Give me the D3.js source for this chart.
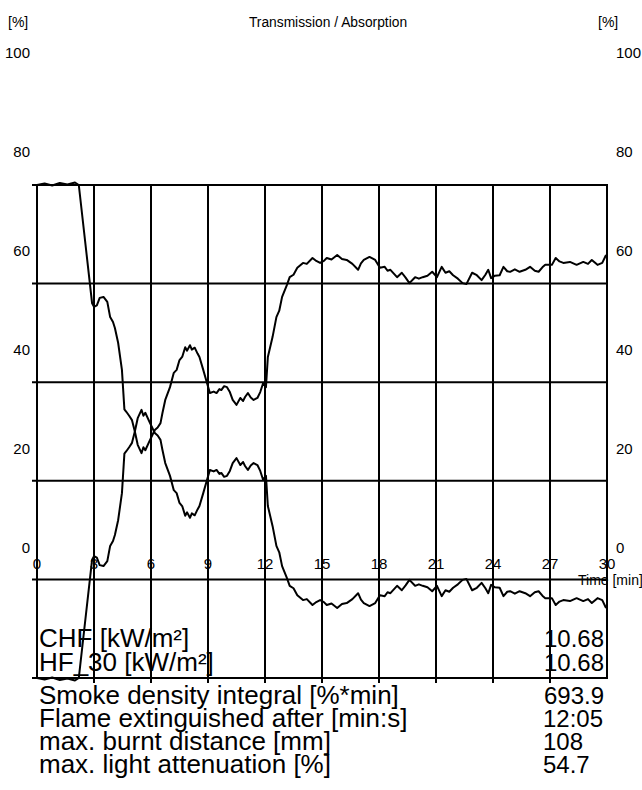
<!DOCTYPE html>
<html>
<head>
<meta charset="utf-8">
<script src="https://cdn.jsdelivr.net/npm/d3@7"></script>
<style>
  body { margin: 0; background: #fff; }
  svg { display: block; }
  text { font-family: "Liberation Sans", Arial, sans-serif; fill: #000; }
</style>
</head>
<body>
<svg id="chart"></svg>
<script>
'use strict'

// time axis [min]
const times = [0, 0.4, 0.8, 1.2, 1.6, 2.0, 2.2, 2.9, 3.0, 3.15, 3.3, 3.5, 3.7, 3.85, 4.0, 4.1, 4.27, 4.47, 4.6, 4.7,
  4.85, 5.0, 5.15, 5.3, 5.5, 5.6, 5.7, 5.95, 6.2, 6.35, 6.5, 6.6, 6.75, 7.0, 7.2, 7.35, 7.5, 7.65, 7.8, 7.9,
  8.05, 8.15, 8.3, 8.45, 8.55, 8.75, 8.95, 9.1, 9.3, 9.45, 9.6, 9.7, 9.85, 10.0, 10.15, 10.3, 10.5, 10.7, 10.85, 10.95,
  11.1, 11.25, 11.4, 11.6, 11.75, 11.9, 12.05, 12.15, 12.4, 12.6, 12.75, 12.9, 13.15, 13.3, 13.5, 13.7, 14.0, 14.2, 14.5, 14.7,
  14.9, 15.1, 15.25, 15.5, 15.8, 16.05, 16.3, 16.6, 16.9, 17.05, 17.2, 17.5, 17.8, 18.05, 18.3, 18.45, 18.6, 18.95, 19.2, 19.4,
  19.6, 19.9, 20.1, 20.3, 20.55, 20.8, 21.05, 21.3, 21.5, 21.7, 21.9, 22.15, 22.4, 22.6, 22.9, 23.15, 23.4, 23.6, 23.75, 23.9,
  24.1, 24.35, 24.55, 24.75, 24.9, 25.15, 25.4, 25.7, 25.95, 26.2, 26.4, 26.6, 26.75, 27.1, 27.3, 27.5, 27.7, 28.05, 28.4, 28.75,
  29.0, 29.2, 29.5, 29.75, 29.95]

// transmission [%]
const transmission = [100, 100.3, 99.9, 100.4, 100.1, 100.5, 100, 76, 75.3, 75.6, 77.1, 77.3, 76.3, 73.2, 72.2, 71, 68, 62.5, 54.5, 54,
  53.2, 52.3, 50, 47.3, 45.6, 46.8, 46.2, 48.3, 50.3, 50.8, 51.7, 53.7, 56.4, 59, 61.9, 62.5, 64.5, 65.2, 67.1, 66.4,
  67.5, 66.6, 67, 65.8, 65.1, 62.5, 59.8, 57.8, 58.1, 57.8, 58.6, 58.4, 59.2, 59, 58, 56.4, 55.4, 56.8, 56.2, 57,
  57.8, 56.9, 56.4, 56.8, 58, 59.8, 59, 65.1, 69.2, 73.2, 74.5, 77.3, 79.7, 81.3, 81.8, 83.2, 84.2, 84.0, 85.2, 84.6,
  84.2, 84.6, 85.2, 84.9, 85.8, 85.0, 84.8, 84.0, 82.8, 84.1, 84.8, 85.4, 84.8, 83.2, 83.4, 82.6, 82.8, 81.3, 82.2, 81.2,
  80.1, 81.3, 81.0, 81.3, 81.6, 82.4, 81.3, 83.4, 82.2, 82.5, 81.7, 81.0, 80.1, 79.9, 82.2, 81.7, 80.7, 81.8, 82.8, 81.1,
  81.6, 81.7, 83.4, 82.5, 82.4, 82.9, 82.4, 82.8, 83.4, 82.6, 82.4, 83.3, 83.8, 83.8, 85.2, 84.5, 84.2, 84.4, 83.8, 84.4,
  84.0, 84.8, 83.8, 84.2, 85.8]

// absorption [%]
const absorption = [0, -0.3, 0.1, -0.4, -0.1, -0.5, 0, 24, 24.7, 24.4, 22.9, 22.7, 23.7, 26.8, 27.8, 29, 32, 37.5, 45.5, 46,
  46.8, 47.7, 50, 52.7, 54.4, 53.2, 53.8, 51.7, 49.7, 49.2, 48.3, 46.3, 43.6, 41, 38.1, 37.5, 35.5, 34.8, 32.9, 33.6,
  32.5, 33.4, 33, 34.2, 34.9, 37.5, 40.2, 42.2, 41.9, 42.2, 41.4, 41.6, 40.8, 41, 42, 43.6, 44.6, 43.2, 43.8, 43,
  42.2, 43.1, 43.6, 43.2, 42, 40.2, 41, 34.9, 30.8, 26.8, 25.5, 22.7, 20.3, 18.7, 18.2, 16.8, 15.8, 16.0, 14.8, 15.4,
  15.8, 15.4, 14.8, 15.1, 14.2, 15.0, 15.2, 16.0, 17.2, 15.9, 15.2, 14.6, 15.2, 16.8, 16.6, 17.4, 17.2, 18.7, 17.8, 18.8,
  19.9, 18.7, 19.0, 18.7, 18.4, 17.6, 18.7, 16.6, 17.8, 17.5, 18.3, 19.0, 19.9, 20.1, 17.8, 18.3, 19.3, 18.2, 17.2, 18.9,
  18.4, 18.3, 16.6, 17.5, 17.6, 17.1, 17.6, 17.2, 16.6, 17.4, 17.6, 16.7, 16.2, 16.2, 14.8, 15.5, 15.8, 15.6, 16.2, 15.6,
  16.0, 15.2, 16.2, 15.8, 14.2]

const xTicks = [0, 3, 6, 9, 12, 15, 18, 21, 24, 27, 30]
const yTicks = [0, 20, 40, 60, 80, 100]

const statLabels = ['CHF [kW/m²]', 'HF_30 [kW/m²]', 'Smoke density integral [%*min]',
  'Flame extinguished after [min:s]', 'max. burnt distance [mm]', 'max. light attenuation [%]']
const statValues = ['10.68', '10.68', '693.9', '12:05', '108', '54.7']

const W = 642, H = 790
const svg = d3.select('#chart').attr('width', W).attr('height', H)

// plot frame
const x = d3.scaleLinear().domain([0, 30]).range([37, 607])
const y = d3.scaleLinear().domain([0, 100]).range([678, 185])
// the printed value labels sit higher than the grid
const yLab = d3.scaleLinear().domain([0, 100]).range([553, 58])

// grid
svg.append('g').selectAll('line').data(yTicks).enter().append('line')
  .attr('x1', 32).attr('x2', x(30))
  .attr('y1', d => y(d)).attr('y2', d => y(d))
  .attr('stroke', '#000').attr('stroke-width', 2)
svg.append('g').selectAll('line').data(xTicks).enter().append('line')
  .attr('x1', d => x(d)).attr('x2', d => x(d))
  .attr('y1', y(100) - 1).attr('y2', d => (d === 0 || d === 30) ? y(0) + 1 : y(0) + 5)
  .attr('stroke', '#000').attr('stroke-width', 2)

// curves
const line = d3.line().x((d, i) => x(times[i])).y(d => y(d))
svg.append('path').datum(transmission).attr('d', line)
  .attr('fill', 'none').attr('stroke', '#000').attr('stroke-width', 2).attr('stroke-linejoin', 'round')
svg.append('path').datum(absorption).attr('d', line)
  .attr('fill', 'none').attr('stroke', '#000').attr('stroke-width', 2).attr('stroke-linejoin', 'round')

// header
svg.append('text').attr('x', 8).attr('y', 27).style('font-size', '14px').text('[%]')
svg.append('text').attr('x', 598).attr('y', 27).style('font-size', '14px').text('[%]')
svg.append('text').attr('x', 328).attr('y', 27).attr('text-anchor', 'middle')
  .style('font-size', '13.8px').text('Transmission / Absorption')

// y labels, both sides
svg.append('g').selectAll('text').data(yTicks).enter().append('text')
  .attr('x', 30).attr('y', d => yLab(d)).attr('text-anchor', 'end')
  .style('font-size', '15px').text(d => d)
svg.append('g').selectAll('text').data(yTicks).enter().append('text')
  .attr('x', 616).attr('y', d => yLab(d))
  .style('font-size', '15px').text(d => d)

// x labels
svg.append('g').selectAll('text').data(xTicks).enter().append('text')
  .attr('x', d => x(d)).attr('y', 569).attr('text-anchor', 'middle')
  .style('font-size', '15px').text(d => d)
svg.append('text').attr('x', 578).attr('y', 585).style('font-size', '14px').text('Time [min]')

// stats block
const rowY = [647, 671, 704, 727, 750, 773]
svg.append('g').selectAll('text').data(statLabels).enter().append('text')
  .attr('x', 39).attr('y', (d, i) => rowY[i])
  .style('font-size', '26px').text(d => d)
svg.append('g').selectAll('text').data(statValues).enter().append('text')
  .attr('x', (d, i) => i < 3 ? 604 : 543).attr('y', (d, i) => rowY[i])
  .attr('text-anchor', (d, i) => i < 3 ? 'end' : 'start')
  .style('font-size', '24px').text(d => d)
</script>
</body>
</html>
